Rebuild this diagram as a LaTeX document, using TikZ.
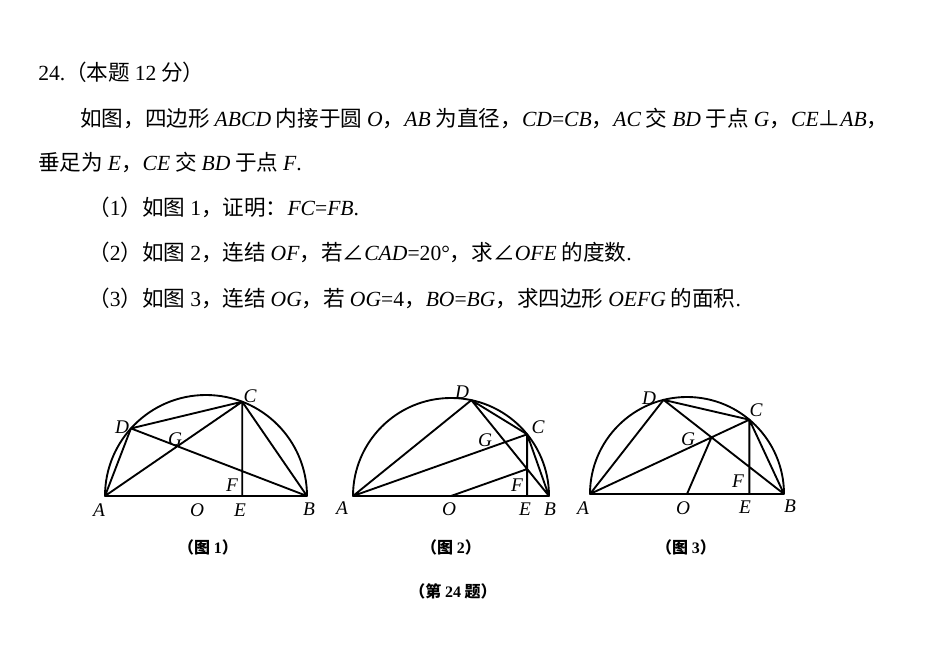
\documentclass[tikz,border=0pt]{standalone}
\usepackage{fontspec}
\usetikzlibrary{calc}
\setmainfont{Liberation Serif}
\newfontfamily\cjk{Noto Sans CJK SC}
\newcommand\m[1]{{\rmfamily\itshape #1}}
\newcommand\up[1]{{\rmfamily #1}}
\begin{document}
\begin{tikzpicture}[x=0.75pt,y=0.75pt,
  txt/.style={anchor=west,inner sep=0,font=\cjk\fontsize{16.2}{19}\selectfont},
  lab/.style={inner sep=0,font=\rmfamily\itshape\fontsize{14.5}{16}\selectfont},
  figcap/.style={inner sep=0,font=\cjk\fontsize{12}{14}\selectfont\bfseries},
  seg/.style={line width=1.4pt,line join=round}]
\useasboundingbox[fill=white] (0,0) rectangle (938,646);
\node[txt] (t1) at (38,574) {\up{24.}（本题 \up{12} 分）};
\node[txt] (t2) at (80,528) {如图，四边形 \m{ABCD} 内接于圆 \m{O}，\m{AB} 为直径，\m{CD}\up{=}\m{CB}，\m{AC} 交 \m{BD} 于点 \m{G}，\m{CE}⊥\m{AB}，};
\node[txt] (t3) at (38,484) {垂足为 \m{E}，\m{CE} 交 \m{BD} 于点 \m{F}\up{.}};
\node[txt] (t4) at (88,439) {（\up{1}）如图 \up{1}，证明：\m{FC}\up{=}\m{FB}\up{.}};
\node[txt] (t5) at (88,394) {（\up{2}）如图 \up{2}，连结 \m{OF}，若∠\m{CAD}\up{=20°}，求∠\m{OFE} 的度数\up{.}};
\node[txt] (t6) at (88,348) {（\up{3}）如图 \up{3}，连结 \m{OG}，若 \m{OG}\up{=4}，\m{BO}\up{=}\m{BG}，求四边形 \m{OEFG} 的面积\up{.}};
% fig 1
\begin{scope}
\coordinate (O) at (206,150);
\coordinate (A) at ($(O)+(180:101)$);
\coordinate (B) at ($(O)+(0:101)$);
\coordinate (C) at ($(O)+(69:101)$);
\coordinate (D) at ($(O)+(138:101)$);
\coordinate (E) at (C|-O);
\coordinate (G) at (intersection of A--C and B--D);
\coordinate (F) at (intersection of C--E and B--D);
\draw[seg] (B) arc (0:180:101) -- (B);
\draw[seg] (A)--(D)--(C)--(A) (D)--(B)--(C)--(E);
\node[lab] (la) at (99,136) {A}; \node[lab] (lb) at (309,137) {B};
\node[lab] (lc) at (250,250) {C}; \node[lab] (ld) at (122,219) {D};
\node[lab] (lo) at (197,136) {O}; \node[lab] (le) at (240,136) {E};
\node[lab] (lf) at (232,161) {F}; \node[lab] (lg) at (175,207) {G};
\node[figcap] (c1) at (208,99) {（图 \up{1}）};
\end{scope}
% fig 2
\begin{scope}
\coordinate (O) at (451,150);
\coordinate (A) at ($(O)+(180:98)$);
\coordinate (B) at ($(O)+(0:98)$);
\coordinate (C) at ($(O)+(39:98)$);
\coordinate (D) at ($(O)+(78:98)$);
\coordinate (E) at (C|-O);
\coordinate (F) at (intersection of C--E and B--D);
\draw[seg] (B) arc (0:180:98) -- (B);
\draw[seg] (A)--(D)--(C)--(A) (D)--(B)--(C)--(E) (O)--(F);
\node[lab] (la) at (342,138) {A}; \node[lab] (lb) at (550,137) {B};
\node[lab] (lc) at (538,219) {C}; \node[lab] (ld) at (462,254) {D};
\node[lab] (lo) at (449,137) {O}; \node[lab] (le) at (525,137) {E};
\node[lab] (lf) at (517,161) {F}; \node[lab] (lg) at (485,206) {G};
\node[figcap] (c2) at (451,99) {（图 \up{2}）};
\end{scope}
% fig 3
\begin{scope}
\coordinate (O) at (687,152);
\coordinate (A) at ($(O)+(180:97)$);
\coordinate (B) at ($(O)+(0:97)$);
\coordinate (C) at ($(O)+(50:97)$);
\coordinate (D) at ($(O)+(104:97)$);
\coordinate (E) at (C|-O);
\coordinate (G) at (intersection of A--C and B--D);
\draw[seg] (B) arc (0:180:97) -- (B);
\draw[seg] (A)--(D)--(C)--(A) (D)--(B)--(C)--(E) (O)--(G);
\node[lab] (la) at (583,138) {A}; \node[lab] (lb) at (790,140) {B};
\node[lab] (lc) at (756,236) {C}; \node[lab] (ld) at (649,248) {D};
\node[lab] (lo) at (683,138) {O}; \node[lab] (le) at (745,139) {E};
\node[lab] (lf) at (738,165) {F}; \node[lab] (lg) at (688,207) {G};
\node[figcap] (c3) at (686,99) {（图 \up{3}）};
\end{scope}
\node[figcap] (c4) at (453,55) {（第 \up{24} 题）};
\end{tikzpicture}
\end{document}
